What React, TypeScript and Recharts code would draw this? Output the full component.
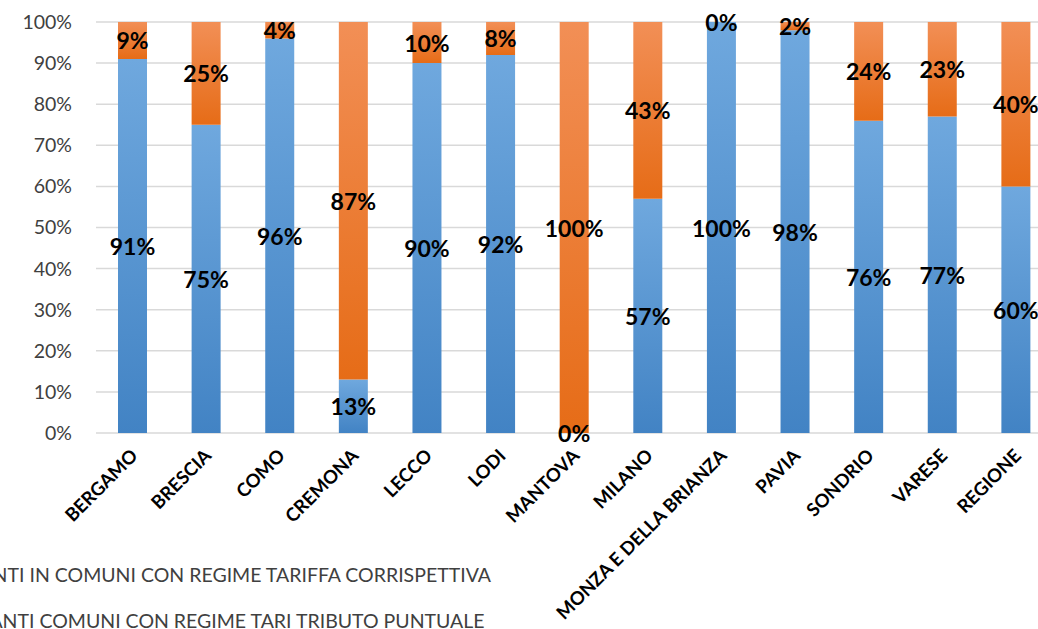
import React from 'react';
import { BarChart, Bar, XAxis, YAxis, CartesianGrid, LabelList } from 'recharts';

const provinces = [
  'BERGAMO',
  'BRESCIA',
  'COMO',
  'CREMONA',
  'LECCO',
  'LODI',
  'MANTOVA',
  'MILANO',
  'MONZA E DELLA BRIANZA',
  'PAVIA',
  'SONDRIO',
  'VARESE',
  'REGIONE',
];
const tributoPuntuale = [91, 75, 96, 13, 90, 92, 0, 57, 100, 98, 76, 77, 60];
const tariffaCorrispettiva = [9, 25, 4, 87, 10, 8, 100, 43, 0, 2, 24, 23, 40];
const yTicks = [0, 10, 20, 30, 40, 50, 60, 70, 80, 90, 100];
const legendNames = [
  'ABITANTI IN COMUNI CON REGIME TARIFFA CORRISPETTIVA',
  'ABITANTI COMUNI CON REGIME TARI TRIBUTO PUNTUALE',
];

const FONT = 'Lato, "Open Sans", sans-serif';
const SHIFT = 100; // chart is wider than the page and cut on both sides

const data = provinces.map((name, i) => ({
  name,
  tributo: tributoPuntuale[i],
  tariffa: tariffaCorrispettiva[i],
}));

const XTick = (props: any) => {
  const { x, y, payload } = props;
  const ax = x + 6;
  const ay = y + 16;
  return (
    <text
      x={ax}
      y={ay}
      transform={`rotate(-45 ${ax} ${ay})`}
      textAnchor="end"
      fontFamily={FONT}
      fontWeight={700}
      fontSize={18.5}
      fill="#000"
    >
      {payload.value}
    </text>
  );
};

const pct = (v: any) => `${v}%`;

const PctText = ({ x, y, v }: { x: number; y: number; v: number }) => (
  <text
    x={x}
    y={y}
    textAnchor="middle"
    dominantBaseline="central"
    fill="#000"
    fontFamily={FONT}
    fontWeight={700}
    fontSize={23}
  >
    {pct(v)}
  </text>
);

// zero-height segments get no label from recharts, so the other segment of
// the same stack draws it at the shared edge (label value = province name)
const blueLabel = (props: any) => {
  const { x, y, width, height, value } = props;
  const i = provinces.indexOf(value);
  const cx = x + width / 2;
  return (
    <g>
      <PctText x={cx} y={y + height / 2} v={tributoPuntuale[i]} />
      {tariffaCorrispettiva[i] === 0 && <PctText x={cx} y={y} v={0} />}
    </g>
  );
};

const orangeLabel = (props: any) => {
  const { x, y, width, height, value } = props;
  const i = provinces.indexOf(value);
  const cx = x + width / 2;
  return (
    <g>
      <PctText x={cx} y={y + height / 2} v={tariffaCorrispettiva[i]} />
      {tributoPuntuale[i] === 0 && <PctText x={cx} y={y + height} v={0} />}
    </g>
  );
};

export default function App() {
  return (
    <div
      style={{
        position: 'fixed',
        left: 0,
        top: 0,
        width: 1038,
        height: 629,
        overflow: 'hidden',
        background: '#fff',
      }}
    >
      <div style={{ position: 'absolute', left: -SHIFT, top: 0 }}>
        <BarChart
          width={1160}
          height={629}
          data={data}
          margin={{ top: 22, right: 7, left: 0, bottom: 0 }}
          barSize={29}
        >
          <defs>
            <linearGradient id="gBlue" x1="0" y1="0" x2="0" y2="1">
              <stop offset="0%" stopColor="#6FA8DE" />
              <stop offset="100%" stopColor="#4283C4" />
            </linearGradient>
            <linearGradient id="gOrange" x1="0" y1="0" x2="0" y2="1">
              <stop offset="0%" stopColor="#F28F56" />
              <stop offset="100%" stopColor="#E66C17" />
            </linearGradient>
          </defs>
          <CartesianGrid vertical={false} stroke="#D9D9D9" strokeWidth={1.5} />
          <XAxis
            dataKey="name"
            interval={0}
            height={196}
            axisLine={false}
            tickLine={false}
            tick={<XTick />}
          />
          <YAxis
            width={196}
            domain={[0, 100]}
            ticks={yTicks}
            tickFormatter={pct}
            axisLine={false}
            tickLine={false}
            tickSize={0}
            tickMargin={24}
            tick={{ fill: '#404040', fontFamily: FONT, fontSize: 19.5 }}
          />
          <Bar dataKey="tributo" stackId="a" fill="url(#gBlue)" isAnimationActive={false}>
            <LabelList dataKey="name" content={blueLabel} />
          </Bar>
          <Bar dataKey="tariffa" stackId="a" fill="url(#gOrange)" isAnimationActive={false}>
            <LabelList dataKey="name" content={orangeLabel} />
          </Bar>
        </BarChart>
      </div>
      <div
        style={{
          position: 'absolute',
          left: -82,
          top: 564,
          fontFamily: FONT,
          fontSize: 19.5,
          color: '#404040',
          whiteSpace: 'nowrap',
          lineHeight: '22px',
        }}
      >
        <div style={{ display: 'flex', alignItems: 'center', gap: 8 }}>
          <span style={{ width: 12, height: 12, background: '#ED7D31', display: 'inline-block' }} />
          {legendNames[0]}
        </div>
        <div style={{ display: 'flex', alignItems: 'center', gap: 8, marginTop: 24, marginLeft: 10 }}>
          <span style={{ width: 12, height: 12, background: '#5B9BD5', display: 'inline-block' }} />
          {legendNames[1]}
        </div>
      </div>
    </div>
  );
}
